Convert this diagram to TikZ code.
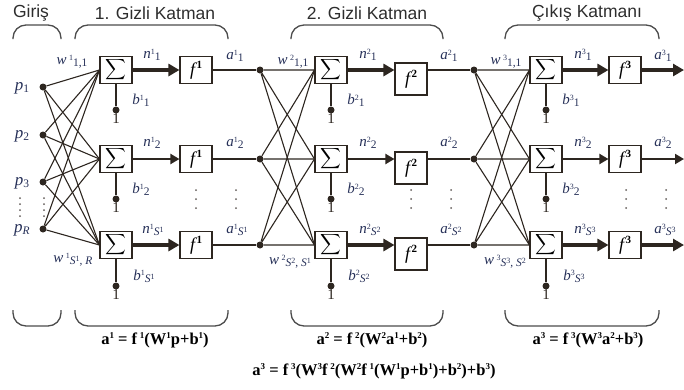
\documentclass[tikz,border=0pt]{standalone}
\usepackage{amsmath}
\usepackage{fontspec}
\setmainfont{Liberation Serif}
\newfontfamily\headfont{Liberation Sans}
\usetikzlibrary{arrows.meta,positioning}
\definecolor{wire}{RGB}{45,38,32}
\definecolor{ink}{RGB}{38,48,88}
\definecolor{capt}{RGB}{45,45,45}
\newcommand{\hi}[1]{\raisebox{.6ex}{\fontsize{8}{8}\selectfont\upshape #1}}
\newcommand{\lo}[1]{\raisebox{-.3ex}{\fontsize{11.5}{11.5}\selectfont\upshape #1}}
\newcommand{\sS}[1]{{\itshape S}\hi{#1}}
\newcommand{\eh}[1]{\raisebox{.8ex}{\fontsize{9}{9}\selectfont #1}}
\newcommand{\fsym}[1]{{\fontsize{18}{18}\selectfont\itshape f}\kern1.5pt\raisebox{1.1ex}{\fontsize{11}{11}\selectfont\bfseries #1}}
\tikzset{
  sumbox/.style={draw=wire, line width=1.1pt, fill=white, minimum width=32pt, minimum height=27pt, inner sep=0pt, font=\fontsize{14}{14}\selectfont},
  actbox/.style={sumbox},
  actboxb/.style={sumbox, minimum height=32pt},
  link/.style={draw=wire, line width=1.1pt},
  flow/.style={draw=wire, line width=3.2pt, -{Triangle[length=11pt,width=12pt]}},
  flowthin/.style={draw=wire, line width=2pt, -{Triangle[length=9pt,width=10pt]}},
  junc/.style={circle, fill=wire, minimum size=7pt, inner sep=0pt},
  lbl/.style={text=ink, inner sep=0pt, font=\fontsize{15}{15}\selectfont\itshape},
  plbl/.style={lbl, font=\fontsize{17}{17}\selectfont\itshape},
  one/.style={inner sep=0pt, text=wire, font=\fontsize{15}{15}\selectfont},
  brace/.style={draw=capt!85, line width=1.3pt, rounded corners=13pt},
  title/.style={text=capt, font=\headfont\fontsize{17.5}{17.5}\selectfont},
  eqn/.style={text=black, font=\fontsize{16.5}{16.5}\selectfont\bfseries}
}
\begin{document}
\begin{tikzpicture}[x=1pt,y=-1pt]
  \useasboundingbox (0,0) rectangle (684,389);
  \node[title] (tin) at (31,13) {Giriş};
  \node[title] (t1) at (155,13) {1. Gizli Katman};
  \node[title] (t2) at (367,13) {2. Gizli Katman};
  \node[title] (t3) at (587,13) {Çıkış Katmanı};
  \draw[brace] (13,39) -- (13,25) -- (61,25) -- (61,39);
  \draw[brace] (75,39) -- (75,25) -- (228,25) -- (228,39);
  \draw[brace] (291,39) -- (291,25) -- (443,25) -- (443,39);
  \draw[brace] (505,39) -- (505,25) -- (659,25) -- (659,39);
  \draw[brace] (13,310) -- (13,326) -- (61,326) -- (61,310);
  \draw[brace] (75,310) -- (75,326) -- (228,326) -- (228,310);
  \draw[brace] (291,310) -- (291,326) -- (443,326) -- (443,310);
  \draw[brace] (505,310) -- (505,326) -- (659,326) -- (659,310);

  \node[junc] (p1) at (43,87) {};
  \node[junc] (p2) at (43,135) {};
  \node[junc] (p3) at (43,182) {};
  \node[junc] (pR) at (43,229) {};
  \node[plbl] (lp1) at (22,88) {p\lo{1}};
  \node[plbl] (lp2) at (22,136) {p\lo{2}};
  \node[plbl] (lp3) at (22,183) {p\lo{3}};
  \node[plbl] (lpR) at (22,230) {p\lo{\itshape R}};
  \fill[wire!75] (20,198) circle (1pt) (20,204) circle (1pt) (20,210) circle (1pt) (20,216) circle (1pt);
  \fill[wire!75] (44,198) circle (1pt) (44,204) circle (1pt) (44,210) circle (1pt) (44,216) circle (1pt);

  \node[sumbox] (s11) at (116,70) {$\displaystyle\sum$};
  \node[sumbox] (s12) at (116,159) {$\displaystyle\sum$};
  \node[sumbox] (s13) at (116,245) {$\displaystyle\sum$};
  \node[actbox] (f11) at (196,70) {\fsym{1}};
  \node[actbox] (f12) at (196,159) {\fsym{1}};
  \node[actbox] (f13) at (196,245) {\fsym{1}};
  \draw[link] (p1) -- (s11.west) (p1) -- (s12.west) (p1) -- (s13.west);
  \draw[link] (p2) -- (s11.west) (p2) -- (s12.west) (p2) -- (s13.west);
  \draw[link] (p3) -- (s11.west) (p3) -- (s12.west) (p3) -- (s13.west);
  \draw[link] (pR) -- (s11.west) (pR) -- (s12.west) (pR) -- (s13.west);
  \draw[flow] (s11) -- (f11);
  \draw[flowthin] (s12) -- (f12);
  \draw[flow] (s13) -- (f13);
  \node[junc] (b11) at (116,110) {};
  \node[junc] (b12) at (116,199) {};
  \node[junc] (b13) at (116,286) {};
  \draw[link] (s11) -- (b11) (s12) -- (b12) (s13) -- (b13);
  \node[one, below=0pt of b11] (u11) {1};
  \node[one, below=0pt of b12] (u12) {1};
  \node[one, below=0pt of b13] (u13) {1};
  \node[lbl] (lb11) at (141,100) {b\hi{1}\lo{1}};
  \node[lbl] (lb12) at (141,189) {b\hi{1}\lo{2}};
  \node[lbl] (lb13) at (144,276) {b\hi{1}\lo{\sS{1}}};
  \node[lbl] (ln11) at (152,55) {n\hi{1}\lo{1}};
  \node[lbl] (ln12) at (152,143) {n\hi{1}\lo{2}};
  \node[lbl] (ln13) at (153,230) {n\hi{1}\lo{\sS{1}}};
  \node[lbl] (la11) at (235,56) {a\hi{1}\lo{1}};
  \node[lbl] (la12) at (235,143) {a\hi{1}\lo{2}};
  \node[lbl] (la13) at (237,230) {a\hi{1}\lo{\sS{1}}};
  \node[lbl] (lw11) at (72,62) {w\,\hi{1}\lo{1,1}};
  \node[lbl] (lw1R) at (73,260) {w\,\hi{1}\lo{\sS{1}, \itshape R}};
  \fill[wire!75] (196,190) circle (1pt) (196,199) circle (1pt) (196,208) circle (1pt);
  \fill[wire!75] (236,190) circle (1pt) (236,199) circle (1pt) (236,208) circle (1pt);

  \node[junc] (j11) at (260,70) {};
  \node[junc] (j12) at (260,159) {};
  \node[junc] (j13) at (260,245) {};
  \draw[link] (f11) -- (j11) (f12) -- (j12) (f13) -- (j13);
  \node[sumbox] (s21) at (331,70) {$\displaystyle\sum$};
  \node[sumbox] (s22) at (331,159) {$\displaystyle\sum$};
  \node[sumbox] (s23) at (331,245) {$\displaystyle\sum$};
  \node[actboxb] (f21) at (411,79) {\fsym{2}};
  \node[actboxb] (f22) at (411,168) {\fsym{2}};
  \node[actboxb] (f23) at (411,254) {\fsym{2}};
  \draw[link] (j11) -- (s21.west) (j11) -- (s22.west) (j11) -- (s23.west);
  \draw[link] (j12) -- (s21.west) (j12) -- (s22.west) (j12) -- (s23.west);
  \draw[link] (j13) -- (s21.west) (j13) -- (s22.west) (j13) -- (s23.west);
  \draw[flow] (s21.east) -- (s21.east -| f21.west);
  \draw[flowthin] (s22.east) -- (s22.east -| f22.west);
  \draw[flow] (s23.east) -- (s23.east -| f23.west);
  \node[junc] (b21) at (331,110) {};
  \node[junc] (b22) at (331,199) {};
  \node[junc] (b23) at (331,286) {};
  \draw[link] (s21) -- (b21) (s22) -- (b22) (s23) -- (b23);
  \node[one, below=0pt of b21] (u21) {1};
  \node[one, below=0pt of b22] (u22) {1};
  \node[one, below=0pt of b23] (u23) {1};
  \node[lbl] (lb21) at (356,100) {b\hi{2}\lo{1}};
  \node[lbl] (lb22) at (356,189) {b\hi{2}\lo{2}};
  \node[lbl] (lb23) at (359,276) {b\hi{2}\lo{\sS{2}}};
  \node[lbl] (ln21) at (368,55) {n\hi{2}\lo{1}};
  \node[lbl] (ln22) at (368,143) {n\hi{2}\lo{2}};
  \node[lbl] (ln23) at (370,230) {n\hi{2}\lo{\sS{2}}};
  \node[lbl] (la21) at (449,56) {a\hi{2}\lo{1}};
  \node[lbl] (la22) at (449,143) {a\hi{2}\lo{2}};
  \node[lbl] (la23) at (451,230) {a\hi{2}\lo{\sS{2}}};
  \node[lbl] (lw21) at (293,62) {w\,\hi{2}\lo{1,1}};
  \node[lbl] (lw2S) at (290,262) {w\,\hi{2}\lo{\sS{2}, \sS{1}}};
  \fill[wire!75] (411,190) circle (1pt) (411,199) circle (1pt) (411,208) circle (1pt);
  \fill[wire!75] (451,190) circle (1pt) (451,199) circle (1pt) (451,208) circle (1pt);

  \node[junc] (j21) at (474,70) {};
  \node[junc] (j22) at (474,159) {};
  \node[junc] (j23) at (474,245) {};
  \draw[link] (f21.east |- j21) -- (j21) (f22.east |- j22) -- (j22) (f23.east |- j23) -- (j23);
  \node[sumbox] (s31) at (546,70) {$\displaystyle\sum$};
  \node[sumbox] (s32) at (546,159) {$\displaystyle\sum$};
  \node[sumbox] (s33) at (546,245) {$\displaystyle\sum$};
  \node[actbox] (f31) at (625,70) {\fsym{3}};
  \node[actbox] (f32) at (625,159) {\fsym{3}};
  \node[actbox] (f33) at (625,245) {\fsym{3}};
  \draw[link] (j21) -- (s31.west) (j21) -- (s32.west) (j21) -- (s33.west);
  \draw[link] (j22) -- (s31.west) (j22) -- (s32.west) (j22) -- (s33.west);
  \draw[link] (j23) -- (s31.west) (j23) -- (s32.west) (j23) -- (s33.west);
  \draw[flow] (s31) -- (f31);
  \draw[flowthin] (s32) -- (f32);
  \draw[flow] (s33) -- (f33);
  \coordinate (o1) at (684,70);
  \coordinate (o2) at (684,159);
  \coordinate (o3) at (684,245);
  \draw[flow] (f31) -- (o1);
  \draw[flowthin] (f32) -- (o2);
  \draw[flow] (f33) -- (o3);
  \node[junc] (b31) at (546,110) {};
  \node[junc] (b32) at (546,199) {};
  \node[junc] (b33) at (546,286) {};
  \draw[link] (s31) -- (b31) (s32) -- (b32) (s33) -- (b33);
  \node[one, below=0pt of b31] (u31) {1};
  \node[one, below=0pt of b32] (u32) {1};
  \node[one, below=0pt of b33] (u33) {1};
  \node[lbl] (lb31) at (571,100) {b\hi{3}\lo{1}};
  \node[lbl] (lb32) at (571,189) {b\hi{3}\lo{2}};
  \node[lbl] (lb33) at (574,276) {b\hi{3}\lo{\sS{3}}};
  \node[lbl] (ln31) at (583,55) {n\hi{3}\lo{1}};
  \node[lbl] (ln32) at (583,143) {n\hi{3}\lo{2}};
  \node[lbl] (ln33) at (585,230) {n\hi{3}\lo{\sS{3}}};
  \node[lbl] (la31) at (663,56) {a\hi{3}\lo{1}};
  \node[lbl] (la32) at (663,143) {a\hi{3}\lo{2}};
  \node[lbl] (la33) at (665,230) {a\hi{3}\lo{\sS{3}}};
  \node[lbl] (lw31) at (506,62) {w\,\hi{3}\lo{1,1}};
  \node[lbl] (lw3S) at (505,262) {w\,\hi{3}\lo{\sS{3}, \sS{2}}};
  \fill[wire!75] (626,190) circle (1pt) (626,199) circle (1pt) (626,208) circle (1pt);
  \fill[wire!75] (666,190) circle (1pt) (666,199) circle (1pt) (666,208) circle (1pt);

  \node[eqn] (e1) at (155,340) {a\eh{1} = f\,\eh{1}(W\eh{1}p+b\eh{1})};
  \node[eqn] (e2) at (372,340) {a\eh{2} = f\,\eh{2}(W\eh{2}a\eh{1}+b\eh{2})};
  \node[eqn] (e3) at (588,340) {a\eh{3} = f\,\eh{3}(W\eh{3}a\eh{2}+b\eh{3})};
  \node[eqn] (e0) at (374,371) {a\eh{3} = f\,\eh{3}(W\eh{3}f\,\eh{2}(W\eh{2}f\,\eh{1}(W\eh{1}p+b\eh{1})+b\eh{2})+b\eh{3})};
\end{tikzpicture}
\end{document}
